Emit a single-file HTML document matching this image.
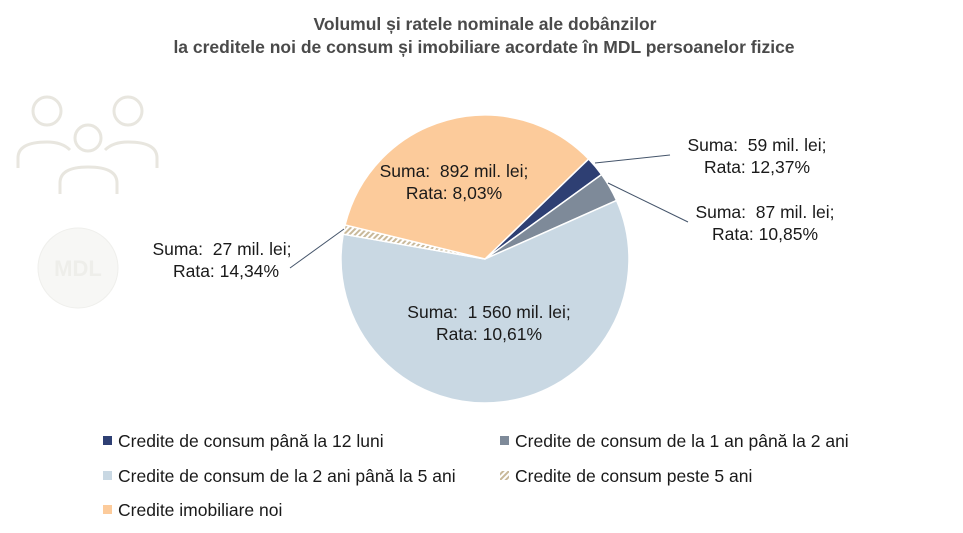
<!DOCTYPE html>
<html><head><meta charset="utf-8"><style>
body{margin:0;background:#fff;width:963px;height:528px;overflow:hidden;font-family:"Liberation Sans",sans-serif}
text{font-family:"Liberation Sans",sans-serif;white-space:pre}
</style></head><body>
<svg id="s" width="963" height="528" xmlns="http://www.w3.org/2000/svg">
<defs><pattern id="h" patternUnits="userSpaceOnUse" width="4" height="4" patternTransform="rotate(45)"><rect width="4" height="4" fill="#fff"/><rect width="2" height="4" fill="#c9b99a"/></pattern></defs>
<text x="485" y="30" text-anchor="middle" font-size="17.5" font-weight="bold" fill="#4a4a4a">Volumul și ratele nominale ale dobânzilor</text>
<text x="484" y="53" text-anchor="middle" font-size="17.5" font-weight="bold" fill="#4a4a4a">la creditele noi de consum și imobiliare acordate în MDL persoanelor fizice</text>
<g fill="none" stroke="#e8e6df" stroke-width="3">
<circle cx="47" cy="111" r="14"/><circle cx="128" cy="111" r="14"/><circle cx="88" cy="138" r="13"/>
<path d="M18 168 V158 Q18 142 47 142 Q62 142 70 150"/><path d="M157 168 V158 Q157 142 128 142 Q113 142 105 150"/>
<path d="M60 194 V183 Q60 167 88 167 Q117 167 117 183 V194"/>
</g>
<circle cx="78" cy="268" r="40" fill="#f7f7f5" stroke="#efefec"/>
<text x="78" y="276" text-anchor="middle" font-size="22" font-weight="bold" fill="#eeeeea">MDL</text>
<g id="pie"></g>
<g stroke="#44546a" stroke-width="1" fill="none">
<polyline points="595,163 670,155"/><polyline points="608,183 688,222"/><polyline points="344,229 290,268"/>
</g>
<g font-size="17.5" fill="#1a1a1a" text-anchor="middle">
<text x="454" y="177">Suma:  892 mil. lei;</text><text x="454" y="199">Rata: 8,03%</text>
<text x="489" y="318">Suma:  1 560 mil. lei;</text><text x="489" y="340">Rata: 10,61%</text>
<text x="757" y="151">Suma:  59 mil. lei;</text><text x="757" y="173">Rata: 12,37%</text>
<text x="765" y="218">Suma:  87 mil. lei;</text><text x="765" y="240">Rata: 10,85%</text>
<text x="222" y="255">Suma:  27 mil. lei;</text><text x="226" y="277">Rata: 14,34%</text>
</g>
<g font-size="17.5" fill="#1a1a1a">
<rect x="103" y="436" width="9" height="9" fill="#2e3f73"/><text x="118" y="447">Credite de consum până la 12 luni</text>
<rect x="500" y="436" width="9" height="9" fill="#7e8a99"/><text x="515" y="447">Credite de consum de la 1 an până la 2 ani</text>
<rect x="103" y="471" width="9" height="9" fill="#c9d8e3"/><text x="118" y="482">Credite de consum de la 2 ani până la 5 ani</text>
<rect x="500" y="471" width="9" height="9" fill="url(#h)"/><text x="515" y="482">Credite de consum peste 5 ani</text>
<rect x="103" y="505" width="9" height="9" fill="#fccb9b"/><text x="118" y="516">Credite imobiliare noi</text>
</g>
</svg>
<script>
var cx=485,cy=259,r=144,d=[[59,"#2e3f73"],[87,"#7e8a99"],[1560,"#c9d8e3"],[27,"url(#h)"],[892,"#fccb9b"]];
var t=2625,a=46,g=document.getElementById("pie"),s="";
function p(x){var rad=(x-90)*Math.PI/180;return (cx+r*Math.cos(rad)).toFixed(2)+","+(cy+r*Math.sin(rad)).toFixed(2);}
d.forEach(function(e){var b=a+e[0]/t*360;s+='<path d="M'+cx+','+cy+' L'+p(a)+' A'+r+','+r+' 0 '+(b-a>180?1:0)+' 1 '+p(b)+' Z" fill="'+e[1]+'" stroke="#fff" stroke-width="1.5"/>';a=b;});
g.innerHTML=s;
</script>
</body></html>
